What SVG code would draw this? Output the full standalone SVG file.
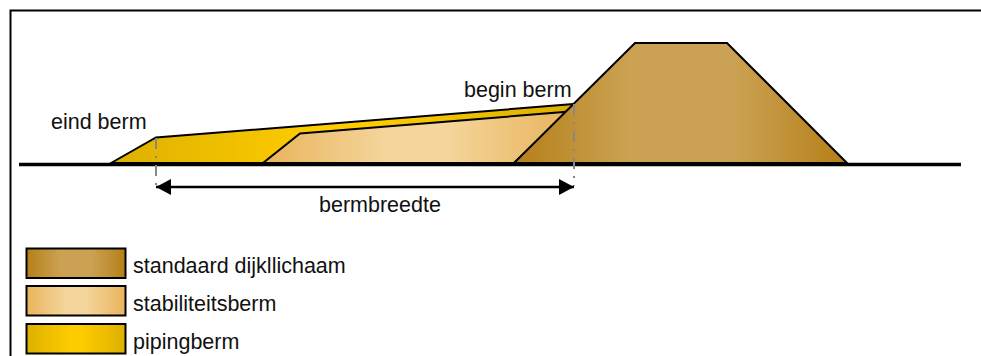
<svg xmlns="http://www.w3.org/2000/svg" width="981" height="356" viewBox="0 0 981 356">
<style>
text{font-family:"Liberation Sans",Arial,sans-serif;font-size:21.500px;fill:#111}
.o{stroke:#000;stroke-width:2;stroke-linejoin:miter}
.d{stroke:#888;stroke-width:2;stroke-dasharray:11 7 2 7;fill:none}
</style>
<defs>
<linearGradient id="gd" x1="0" x2="1" y1="0" y2="0"><stop offset="0" stop-color="#b57f18"/><stop offset=".35" stop-color="#cba254"/><stop offset=".65" stop-color="#cba254"/><stop offset="1" stop-color="#b57f18"/></linearGradient>
<linearGradient id="gs" x1="0" x2="1" y1="0" y2="0"><stop offset="0" stop-color="#e9b45c"/><stop offset=".4" stop-color="#f4d59b"/><stop offset=".6" stop-color="#f4d59b"/><stop offset="1" stop-color="#e9b45c"/></linearGradient>
<linearGradient id="gp" x1="0" x2="1" y1="0" y2="0"><stop offset="0" stop-color="#dcb000"/><stop offset=".45" stop-color="#ffcc00"/><stop offset=".55" stop-color="#ffcc00"/><stop offset="1" stop-color="#dcb000"/></linearGradient>
<marker id="ah" markerUnits="userSpaceOnUse" markerWidth="16" markerHeight="16" refX="15" refY="8" orient="auto-start-reverse"><path d="M0,0L15,8L0,16Z" fill="#000"/></marker>
</defs>
<path id="frame" d="M10.500,356V10.500H981" fill="none" stroke="#000" stroke-width="2"/>
<g id="pipingberm"><path class="o" fill="url(#gp)" d="M111,163L156,137.500L574,104L520,163Z"/></g>
<g id="stabiliteitsberm"><path class="o" fill="url(#gs)" d="M263,163L300,133.500L570,111.500L514,163Z"/></g>
<g id="dijklichaam"><path class="o" fill="url(#gd)" d="M514,163L635,43H727L847,163Z"/></g>
<g id="connectors">
<path d="M19,164.500H961" stroke="#000" stroke-width="3.500" fill="none"/>
<path class="d" d="M156,138V188"/>
<path class="d" d="M574,104V186"/>
<path d="M156,187H574" stroke="#000" stroke-width="2.500" fill="none" marker-start="url(#ah)" marker-end="url(#ah)"/>
</g>
<text x="51" y="129">eind berm</text>
<text x="464" y="97">begin berm</text>
<text x="319" y="212">bermbreedte</text>
<g id="legend-dijk"><rect class="o" x="26.500" y="248.500" width="99" height="29.500" fill="url(#gd)"/><text x="133" y="273">standaard dijkllichaam</text></g>
<g id="legend-stabiliteit"><rect class="o" x="26.500" y="286" width="99" height="29.500" fill="url(#gs)"/><text x="133" y="311">stabiliteitsberm</text></g>
<g id="legend-piping"><rect class="o" x="26.500" y="324" width="99" height="29.500" fill="url(#gp)"/><text x="133" y="349">pipingberm</text></g>
</svg>
